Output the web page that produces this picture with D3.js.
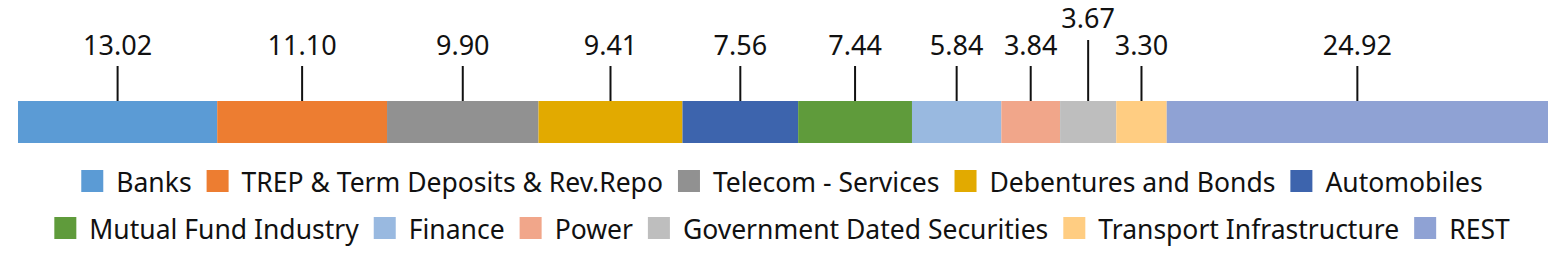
<!DOCTYPE html>
<html>
<head>
<meta charset="utf-8">
<script src="https://cdn.jsdelivr.net/npm/d3@7"></script>
<style>
    body { margin: 0; background: #fff; }
    svg text { font-family: "Noto Sans", "Open Sans", sans-serif; fill: #111; }
</style>
</head>
<body>
<svg id="chart" width="1564" height="267"></svg>
<script>
/*globals d3*/

var categories = ["Banks", "TREP & Term Deposits & Rev.Repo", "Telecom - Services", "Debentures and Bonds",
    "Automobiles", "Mutual Fund Industry", "Finance", "Power", "Government Dated Securities",
    "Transport Infrastructure", "REST"];
var values = [13.02, 11.10, 9.90, 9.41, 7.56, 7.44, 5.84, 3.84, 3.67, 3.30, 24.92];
var colors = ["#5b9bd5", "#ed7d31", "#919191", "#e2aa00", "#3d64ad", "#5f9b3b", "#99b9e0", "#f1a68a",
    "#bebebe", "#ffcd82", "#8fa2d4"];
var legendRows = [5, 6];

(function () {
    "use strict";

    var svg = d3.select("#chart"),
        width = 1564,
        barTop = 101,
        barH = 42,
        sw = 22,
        x,
        stack,
        labels,
        levels,
        legend,
        start;

    stack = [];
    start = 0;
    values.forEach(function (v, i) {
        stack.push({name: categories[i], value: v, x0: start, x1: start + v, color: colors[i]});
        start += v;
    });

    x = d3.scaleLinear().domain([0, d3.sum(values)]).range([18, 1548]);

    svg.append("g").selectAll("rect").data(stack)
        .enter().append("rect")
        .attr("x", function (d) { return x(d.x0); })
        .attr("y", barTop)
        .attr("width", function (d) { return x(d.x1) - x(d.x0); })
        .attr("height", barH)
        .attr("fill", function (d) { return d.color; });

    // value labels, lifted one level when they would collide with a neighbour
    labels = svg.append("g").selectAll("g").data(stack)
        .enter().append("g");
    labels.append("text")
        .attr("text-anchor", "middle")
        .style("font-size", "27px")
        .text(function (d) { return d.value.toFixed(2); });

    levels = [];
    labels.each(function (d) {
        var cx = (x(d.x0) + x(d.x1)) / 2,
            w = this.querySelector("text").getComputedTextLength(),
            lvl = 0;
        while (levels[lvl] !== undefined && cx - w / 2 < levels[lvl] + 4) {
            lvl += 1;
        }
        levels[lvl] = cx + w / 2;
        d.cx = cx;
        d.level = lvl;
    });

    labels.select("text")
        .attr("x", function (d) { return d.cx; })
        .attr("y", function (d) { return 55 - 27 * d.level; });
    labels.append("line")
        .attr("x1", function (d) { return d.cx; })
        .attr("x2", function (d) { return d.cx; })
        .attr("y1", function (d) { return 66 - 26 * d.level; })
        .attr("y2", barTop)
        .attr("stroke", "#111")
        .attr("stroke-width", 2);

    // legend, two centred rows
    legend = svg.append("g");
    start = 0;
    legendRows.forEach(function (n, r) {
        var items = stack.slice(start, start + n),
            row = legend.append("g"),
            g,
            pos = 0;
        start += n;
        g = row.selectAll("g").data(items).enter().append("g");
        g.append("rect")
            .attr("y", 170 + r * 47)
            .attr("width", sw)
            .attr("height", sw)
            .attr("fill", function (d) { return d.color; });
        g.append("text")
            .attr("x", sw + 13)
            .attr("y", 192 + r * 47)
            .style("font-size", "26.5px")
            .text(function (d) { return d.name; });
        g.each(function () {
            var w = this.querySelector("text").getComputedTextLength();
            d3.select(this).attr("transform", "translate(" + pos + ",0)");
            pos += sw + 13 + w + 15;
        });
        pos -= 15;
        row.attr("transform", "translate(" + ((width - pos) / 2) + ",0)");
    });
}());
</script>
</body>
</html>
